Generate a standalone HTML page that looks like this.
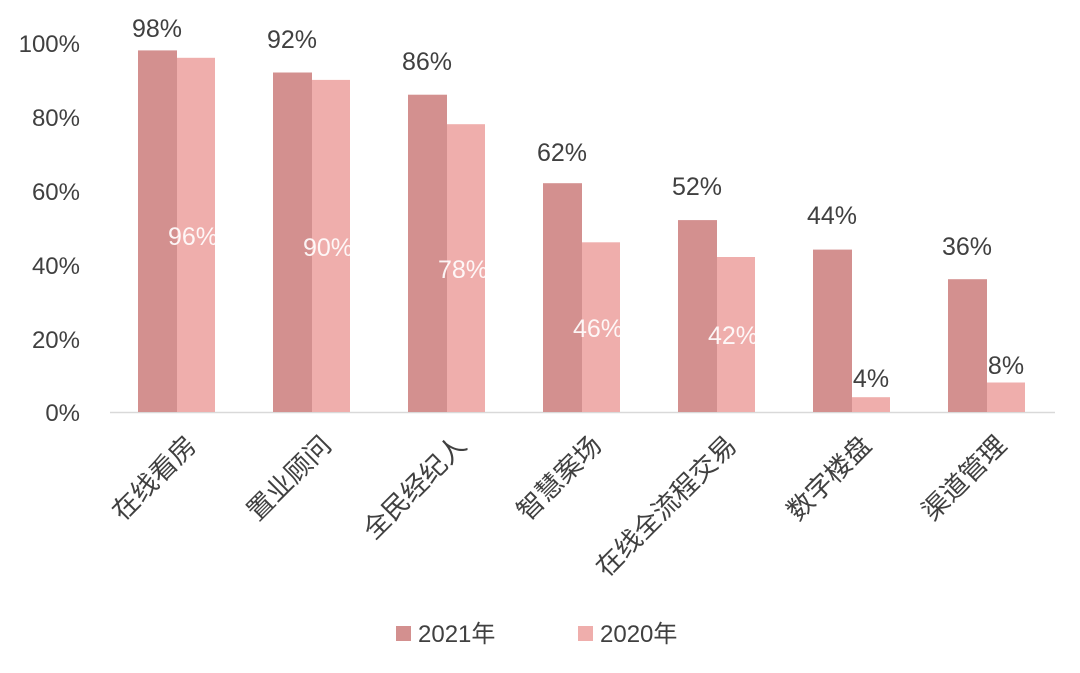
<!DOCTYPE html>
<html><head><meta charset="utf-8"><style>
html,body{margin:0;padding:0;background:#fff;}
text{font-family:"Liberation Sans","Noto Sans CJK SC",sans-serif;}
</style></head><body>
<svg width="1080" height="668" viewBox="0 0 1080 668" xmlns="http://www.w3.org/2000/svg">
<g font-size="24" fill="#404040" text-anchor="end">
<text x="80" y="52">100%</text>
<text x="80" y="126">80%</text>
<text x="80" y="200">60%</text>
<text x="80" y="274">40%</text>
<text x="80" y="348">20%</text>
<text x="80" y="421">0%</text>
</g>
<line x1="110" y1="412.5" x2="1055" y2="412.5" stroke="#d9d9d9" stroke-width="1.5"/>
<g fill="#d3908f">
<rect x="138" y="50.4" width="39" height="361.6"/>
<rect x="273" y="72.5" width="39" height="339.5"/>
<rect x="408" y="94.7" width="39" height="317.3"/>
<rect x="543" y="183.2" width="39" height="228.8"/>
<rect x="678" y="220.1" width="39" height="191.9"/>
<rect x="813" y="249.6" width="39" height="162.4"/>
<rect x="948" y="279.2" width="39" height="132.8"/>
</g>
<g fill="#efaeac">
<rect x="177" y="57.8" width="38" height="354.2"/>
<rect x="312" y="79.9" width="38" height="332.1"/>
<rect x="447" y="124.2" width="38" height="287.8"/>
<rect x="582" y="242.3" width="38" height="169.7"/>
<rect x="717" y="257" width="38" height="155"/>
<rect x="852" y="397.2" width="38" height="14.8"/>
<rect x="987" y="382.5" width="38" height="29.5"/>
</g>
<g font-size="25" fill="#404040" text-anchor="middle">
<text x="157" y="37">98%</text>
<text x="292" y="48">92%</text>
<text x="427" y="70">86%</text>
<text x="562" y="161">62%</text>
<text x="697" y="195">52%</text>
<text x="832" y="224">44%</text>
<text x="967" y="255">36%</text>
<text x="871" y="387">4%</text>
<text x="1006" y="374">8%</text>
</g>
<g font-size="25" fill="#fff" fill-opacity="0.9" text-anchor="middle">
<text x="193" y="245">96%</text>
<text x="328" y="256">90%</text>
<text x="463" y="278">78%</text>
<text x="598" y="337">46%</text>
<text x="733" y="344">42%</text>
</g>
<g font-size="26.5" fill="#404040" text-anchor="end">
<text transform="translate(198,447) rotate(-45)">在线看房</text>
<text transform="translate(333,447) rotate(-45)">置业顾问</text>
<text transform="translate(468,447) rotate(-45)">全民经纪人</text>
<text transform="translate(603,447) rotate(-45)">智慧案场</text>
<text transform="translate(738,447) rotate(-45)">在线全流程交易</text>
<text transform="translate(873,447) rotate(-45)">数字楼盘</text>
<text transform="translate(1008,447) rotate(-45)">渠道管理</text>
</g>
<rect x="396" y="626" width="15" height="15" fill="#d3908f"/>
<text x="418" y="642" font-size="24" fill="#404040">2021年</text>
<rect x="578" y="626" width="15" height="15" fill="#efaeac"/>
<text x="600" y="642" font-size="24" fill="#404040">2020年</text>
</svg>
</body></html>
